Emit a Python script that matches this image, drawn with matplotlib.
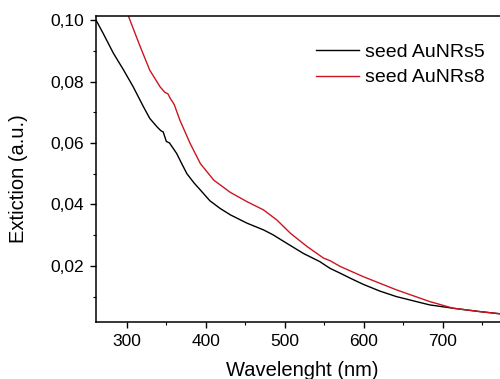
import matplotlib
matplotlib.use("Agg")
import matplotlib.pyplot as plt
from matplotlib.ticker import MultipleLocator, FuncFormatter

plt.rcParams['font.family'] = ['Liberation Sans', 'DejaVu Sans']

# Extinction spectra (wavelength in nm, extinction in a.u.)
wl_aunrs5 = [261, 270, 283, 296, 308, 321, 329, 338, 343, 346, 350, 354, 358, 363,
             370, 376, 385, 393, 405, 418, 431, 452, 473, 485, 502, 523, 544, 557,
             570, 585, 599, 620, 641, 683, 713, 747, 772, 800]
ext_aunrs5 = [0.1000, 0.0957, 0.0892, 0.0837, 0.0783, 0.0718, 0.0680, 0.0653, 0.0640,
              0.0636, 0.0605, 0.0600, 0.0585, 0.0566, 0.0530, 0.0500, 0.0470, 0.0447,
              0.0412, 0.0387, 0.0366, 0.0339, 0.0317, 0.0301, 0.0274, 0.0241, 0.0214,
              0.0192, 0.0176, 0.0157, 0.0140, 0.0118, 0.0100, 0.0073, 0.0062, 0.0051,
              0.0044, 0.0038]

wl_aunrs8 = [290, 302, 317, 329, 342, 348, 352, 355, 360, 367, 380, 393, 410, 431,
             452, 473, 490, 507, 528, 549, 557, 570, 599, 641, 683, 713, 747, 772, 800]
ext_aunrs8 = [0.1080, 0.1013, 0.0913, 0.0837, 0.0783, 0.0765, 0.0760, 0.0745, 0.0725,
              0.0675, 0.0599, 0.0533, 0.0479, 0.0439, 0.0409, 0.0382, 0.0349, 0.0306,
              0.0263, 0.0225, 0.0217, 0.0198, 0.0165, 0.0122, 0.0084, 0.0062, 0.0051,
              0.0044, 0.0038]

labels = ['seed AuNRs5', 'seed AuNRs8']
x_ticks = [300, 400, 500, 600, 700]
y_ticks = [0.02, 0.04, 0.06, 0.08, 0.10]

fig = plt.figure(figsize=(5.0, 3.79), dpi=100)
ax = fig.add_axes([0.192, 0.151, 0.852, 0.8066])

ax.plot(wl_aunrs5, ext_aunrs5, color='black', lw=1.0, label=labels[0])
ax.plot(wl_aunrs8, ext_aunrs8, color='#cc1520', lw=1.0, label=labels[1])

ax.set_xlim(261, 800)
ax.set_ylim(0.0018, 0.1013)

ax.set_xticks(x_ticks)
ax.set_yticks(y_ticks)
ax.xaxis.set_minor_locator(MultipleLocator(50))
ax.yaxis.set_minor_locator(MultipleLocator(0.01))
ax.yaxis.set_major_formatter(FuncFormatter(lambda v, p: f"{v:.2f}".replace('.', ',')))

ax.tick_params(which='major', direction='out', length=4.5, width=1.0, labelsize=12.5, pad=4)
ax.tick_params(which='minor', direction='out', length=2.5, width=0.8)
ax.tick_params(top=False, right=False, which='both')
for s in ax.spines.values():
    s.set_linewidth(1.1)

fig.text(302.5 / 500, (379 - 376) / 379, 'Wavelenght (nm)', fontsize=14.5,
         ha='center', va='baseline')
fig.text(19 / 500, 1 - 178.5 / 379, 'Extiction (a.u.)', fontsize=14.5,
         ha='center', va='center', rotation=90)

fig.legend(loc='upper left', bbox_to_anchor=(316 / 500, (379 - 43) / 379),
           frameon=False, fontsize=14, handlelength=2.2, handletextpad=0.3,
           borderpad=0, borderaxespad=0, labelspacing=0.42)

fig.savefig('out.png', dpi=100)
